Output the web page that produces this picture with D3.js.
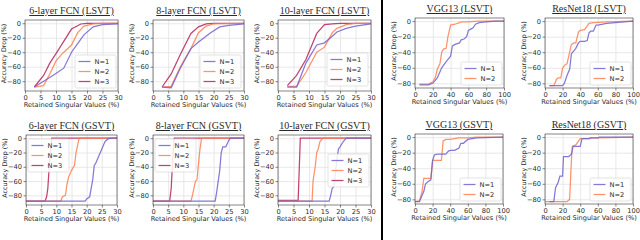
<!DOCTYPE html>
<html>
<head>
<meta charset="utf-8">
<script src="https://cdn.jsdelivr.net/npm/d3@7"></script>
<style>
  body { margin: 0; background: #fff; }
  svg text { font-family: "DejaVu Sans", sans-serif; fill: #2a2a2a; }
  .grid line { stroke: #e2e2e2; stroke-width: 0.8; }
  .grid path { display: none; }
  .axis path { display: none; }
  .axis line { stroke: #333; stroke-width: 0.6; }
  .title { font-family: "Liberation Serif", "Times New Roman", serif !important; font-size: 10px; text-decoration: underline; }
</style>
</head>
<body>
<script>
// [retained singular values %, accuracy drop %]
var fcn6Lsvt1 = [[3,-88],[6,-80],[9,-72],[12.5,-62],[15,-40],[17.5,-25],[19,-16],[22,-5],[25,-2],[30,-1]];
var fcn6Lsvt2 = [[3,-88],[6,-86],[8,-70],[10,-52],[12,-42],[15,-30],[17,-13],[19,-4],[22,-1],[25,0],[30,0]];
var fcn6Lsvt3 = [[3,-88],[6,-72],[8,-55],[10,-42],[12.5,-25],[15,-8],[18,-1],[20,0],[30,0]];

var fcn8Lsvt1 = [[3,-88],[6,-89],[9,-62],[12.5,-35],[15,-26],[19,-13],[22,-5],[25,-3],[30,-1]];
var fcn8Lsvt2 = [[3,-88],[6,-87],[9,-60],[12.5,-35],[15,-13],[17.5,-4],[20,-1],[30,0]];
var fcn8Lsvt3 = [[3,-88],[6,-70],[9,-43],[12.5,-14],[15,-5],[17.5,-1],[20,0],[30,0]];

var fcn10Lsvt1 = [[3,-88],[6,-88],[9,-55],[12.5,-30],[15,-27],[17.5,-18],[19,-12],[22,-7],[25,-4],[30,-1]];
var fcn10Lsvt2 = [[3,-87],[6,-87],[9,-68],[12.5,-40],[15,-33],[17.5,-13],[19,-7],[22,-2],[25,0],[30,0]];
var fcn10Lsvt3 = [[3,-86],[6,-72],[9,-50],[12.5,-14],[15,-2],[17.5,-1],[20,0],[30,0]];

var vggLsvt1 = [[5,-82],[15,-82],[20,-80],[25,-73],[30,-60],[35,-52],[40,-45],[42,-32],[45,-30],[50,-28],[52,-24],[55,-23],[58,-20],[60,-12],[63,-10],[65,-9],[68,-4],[72,-2],[80,-1],[90,0],[100,0]];
var vggLsvt2 = [[5,-81],[15,-81],[20,-78],[23,-72],[25,-62],[28,-55],[30,-40],[32,-36],[35,-35],[37,-20],[40,-5],[45,-4],[50,-2],[52,-1],[60,-1],[70,0],[100,0]];

var resLsvt1 = [[5,-83],[20,-83],[22,-80],[25,-70],[28,-62],[30,-42],[33,-38],[35,-35],[38,-28],[40,-26],[45,-26],[48,-25],[50,-15],[52,-13],[55,-13],[58,-5],[60,-5],[70,-3],[80,-2],[90,-1],[100,0]];
var resLsvt2 = [[5,-83],[10,-83],[13,-75],[15,-73],[18,-73],[20,-60],[23,-56],[25,-55],[28,-40],[30,-30],[33,-28],[35,-28],[38,-14],[40,-12],[45,-11],[50,-3],[55,-2],[70,-1],[100,0]];

var fcn6Gsvt1 = [[0,-88],[19.5,-88],[20,-85],[21,-82],[21.5,-70],[22,-58],[22.5,-38],[23,-35],[24,-25],[25,-15],[26,-5],[27,-1],[28,0],[30,0]];
var fcn6Gsvt2 = [[0,-88],[11.5,-88],[12,-82],[13,-80],[13.5,-65],[14,-55],[15,-45],[16,-38],[16.5,-20],[17.5,0],[30,0]];
var fcn6Gsvt3 = [[0,-88],[6.3,-88],[6.8,-82],[7.2,-70],[7.5,-50],[8,-20],[8.5,0],[30,0]];

var fcn8Gsvt1 = [[0,-88],[20.5,-88],[21,-75],[22,-45],[22.5,-20],[23,-12],[24,-12],[25,-3],[25.5,0],[30,0]];
var fcn8Gsvt2 = [[0,-88],[12.5,-88],[13,-80],[14,-60],[14.5,-58],[15,-35],[15.5,-15],[16,0],[30,0]];
var fcn8Gsvt3 = [[0,-88],[5.5,-88],[6,-70],[6.5,-30],[7,0],[30,0]];

var fcn10Gsvt1 = [[0,-88],[16.5,-88],[17,-80],[17.5,-70],[18,-68],[18.5,-50],[19,-30],[19.5,-15],[20,-12],[21,-5],[22,0],[30,0]];
var fcn10Gsvt2 = [[0,-88],[11,-88],[11.3,-60],[12,-40],[12.5,-20],[13,-15],[13.5,-5],[14.5,0],[30,0]];
var fcn10Gsvt3 = [[0,-87],[6.5,-87],[7.2,0],[30,0]];

var vggGsvt1 = [[0,-83],[5,-83],[8,-75],[10,-70],[12,-60],[15,-57],[18,-55],[20,-30],[22,-23],[25,-22],[35,-22],[38,-18],[40,-17],[45,-17],[50,-14],[52,-8],[55,-8],[60,-3],[65,-2],[70,-1],[100,0]];
var vggGsvt2 = [[0,-83],[5,-82],[8,-70],[10,-53],[18,-53],[20,-30],[30,-30],[32,-5],[35,-3],[40,-3],[45,-2],[50,-1],[60,-1],[70,0],[100,0]];

var resGsvt1 = [[5,-83],[10,-83],[12,-65],[15,-58],[17,-50],[20,-50],[21,-25],[27,-25],[30,-22],[32,-12],[40,-12],[42,-2],[50,-2],[52,-1],[60,-1],[62,0],[100,0]];
var resGsvt2 = [[0,-83],[25,-83],[28,-80],[30,-30],[31,-12],[35,-10],[40,-2],[50,-2],[52,-1],[60,-1],[100,0]];

var fcnTicks = [0, 5, 10, 15, 20, 25, 30];
var cnnTicks = [0, 20, 40, 60, 80, 100];
var yTicks = [0, -20, -40, -60, -80];
var seriesNames = ["N=1", "N=2", "N=3"];
var colors = ["#6e61cf", "#ff7f50", "#b52259"];

var panels = [
  {title: "6-layer FCN (LSVT)", data: [fcn6Lsvt1, fcn6Lsvt2, fcn6Lsvt3], xt: fcnTicks, yd: [-93.5, 4.5], box: [25, 20, 118, 91], leg: [75, 55]},
  {title: "8-layer FCN (LSVT)", data: [fcn8Lsvt1, fcn8Lsvt2, fcn8Lsvt3], xt: fcnTicks, yd: [-93.5, 4.5], box: [153, 20, 244, 91], leg: [200, 55]},
  {title: "10-layer FCN (LSVT)", data: [fcn10Lsvt1, fcn10Lsvt2, fcn10Lsvt3], xt: fcnTicks, yd: [-93.5, 4.5], box: [278, 20, 371, 91], leg: [327, 53]},
  {title: "VGG13 (LSVT)", data: [vggLsvt1, vggLsvt2], xt: cnnTicks, yd: [-86, 4], box: [415, 18, 504, 88], leg: [461, 62]},
  {title: "ResNet18 (LSVT)", data: [resLsvt1, resLsvt2], xt: cnnTicks, yd: [-86, 4], box: [545, 18, 633, 88], leg: [590, 62]},
  {title: "6-layer FCN (GSVT)", data: [fcn6Gsvt1, fcn6Gsvt2, fcn6Gsvt3], xt: fcnTicks, yd: [-93.5, 4.5], box: [26, 135, 117, 205], leg: [28, 139]},
  {title: "8-layer FCN (GSVT)", data: [fcn8Gsvt1, fcn8Gsvt2, fcn8Gsvt3], xt: fcnTicks, yd: [-93.5, 4.5], box: [153, 135, 244, 205], leg: [155, 139]},
  {title: "10-layer FCN (GSVT)", data: [fcn10Gsvt1, fcn10Gsvt2, fcn10Gsvt3], xt: fcnTicks, yd: [-93.5, 4.5], box: [278, 135, 371, 205], leg: [328, 154]},
  {title: "VGG13 (GSVT)", data: [vggGsvt1, vggGsvt2], xt: cnnTicks, yd: [-86, 4], box: [415, 134, 503, 204], leg: [460, 178]},
  {title: "ResNet18 (GSVT)", data: [resGsvt1, resGsvt2], xt: cnnTicks, yd: [-86, 4], box: [545, 134, 633, 204], leg: [590, 178]}
];

var svg = d3.select("body").append("svg")
  .attr("width", 640)
  .attr("height", 240);

panels.forEach(function(p) {
  var l = p.box[0], t = p.box[1], r = p.box[2], b = p.box[3];
  var x = d3.scaleLinear().domain([0, p.xt[p.xt.length - 1]]).range([l, r]);
  var y = d3.scaleLinear().domain(p.yd).range([b, t]);
  var g = svg.append("g");

  // grid
  g.append("g").attr("class", "grid")
    .attr("transform", "translate(0," + b + ")")
    .call(d3.axisBottom(x).tickValues(p.xt).tickSize(-(b - t)).tickFormat(""));
  g.append("g").attr("class", "grid")
    .attr("transform", "translate(" + l + ",0)")
    .call(d3.axisLeft(y).tickValues(yTicks).tickSize(-(r - l)).tickFormat(""));

  // lines, last series first so N=1 ends up on top
  var line = d3.line().x(d => x(d[0])).y(d => y(d[1]));
  p.data.slice().reverse().forEach(function(s, k) {
    var i = p.data.length - 1 - k;
    g.append("path")
      .attr("d", line(s))
      .attr("fill", "none")
      .attr("stroke", colors[i])
      .attr("stroke-opacity", 0.85)
      .attr("stroke-width", 1.25);
  });

  // frame
  g.append("rect")
    .attr("x", l).attr("y", t)
    .attr("width", r - l).attr("height", b - t)
    .attr("fill", "none").attr("stroke", "#333").attr("stroke-width", 0.6);

  // axes
  var xa = g.append("g").attr("class", "axis")
    .attr("transform", "translate(0," + b + ")")
    .call(d3.axisBottom(x).tickValues(p.xt).tickSize(2.5).tickPadding(1.5));
  var ya = g.append("g").attr("class", "axis")
    .attr("transform", "translate(" + l + ",0)")
    .call(d3.axisLeft(y).tickValues(yTicks).tickSize(2.5).tickPadding(1.5));
  xa.selectAll("text").style("font-size", "6.7px").attr("fill", "#2a2a2a");
  ya.selectAll("text").style("font-size", "6.7px").attr("fill", "#2a2a2a");

  // labels
  g.append("text")
    .attr("x", (l + r) / 2).attr("y", b + 15.5)
    .attr("text-anchor", "middle")
    .style("font-size", "6.6px")
    .text("Retained Singular Values (%)");
  g.append("text")
    .attr("transform", "translate(" + (l - 19.5) + "," + ((t + b) / 2 - 2) + ") rotate(-90)")
    .attr("text-anchor", "middle")
    .style("font-size", "6.4px")
    .text("Accuracy Drop (%)");
  g.append("text")
    .attr("class", "title")
    .attr("x", (l + r) / 2).attr("y", t - 6)
    .attr("text-anchor", "middle")
    .text(p.title);

  // legend
  var n = p.data.length;
  var lg = g.append("g").attr("transform", "translate(" + p.leg[0] + "," + p.leg[1] + ")");
  lg.append("rect")
    .attr("width", 41).attr("height", n * 10 + 3)
    .attr("rx", 1.5)
    .attr("fill", "#fff").attr("fill-opacity", 0.85)
    .attr("stroke", "#d0d0d0").attr("stroke-width", 0.6);
  p.data.forEach(function(s, i) {
    var cy = 6.5 + i * 10;
    lg.append("line")
      .attr("x1", 3.5).attr("x2", 15.5)
      .attr("y1", cy).attr("y2", cy)
      .attr("stroke", colors[i]).attr("stroke-opacity", 0.85).attr("stroke-width", 1.25);
    lg.append("text")
      .attr("x", 19.5).attr("y", cy + 2.4)
      .style("font-size", "6.7px")
      .text(seriesNames[i]);
  });
});

// separator
svg.append("line")
  .attr("x1", 382).attr("x2", 382)
  .attr("y1", 0).attr("y2", 240)
  .attr("stroke", "#000").attr("stroke-width", 2);
</script>
</body>
</html>
